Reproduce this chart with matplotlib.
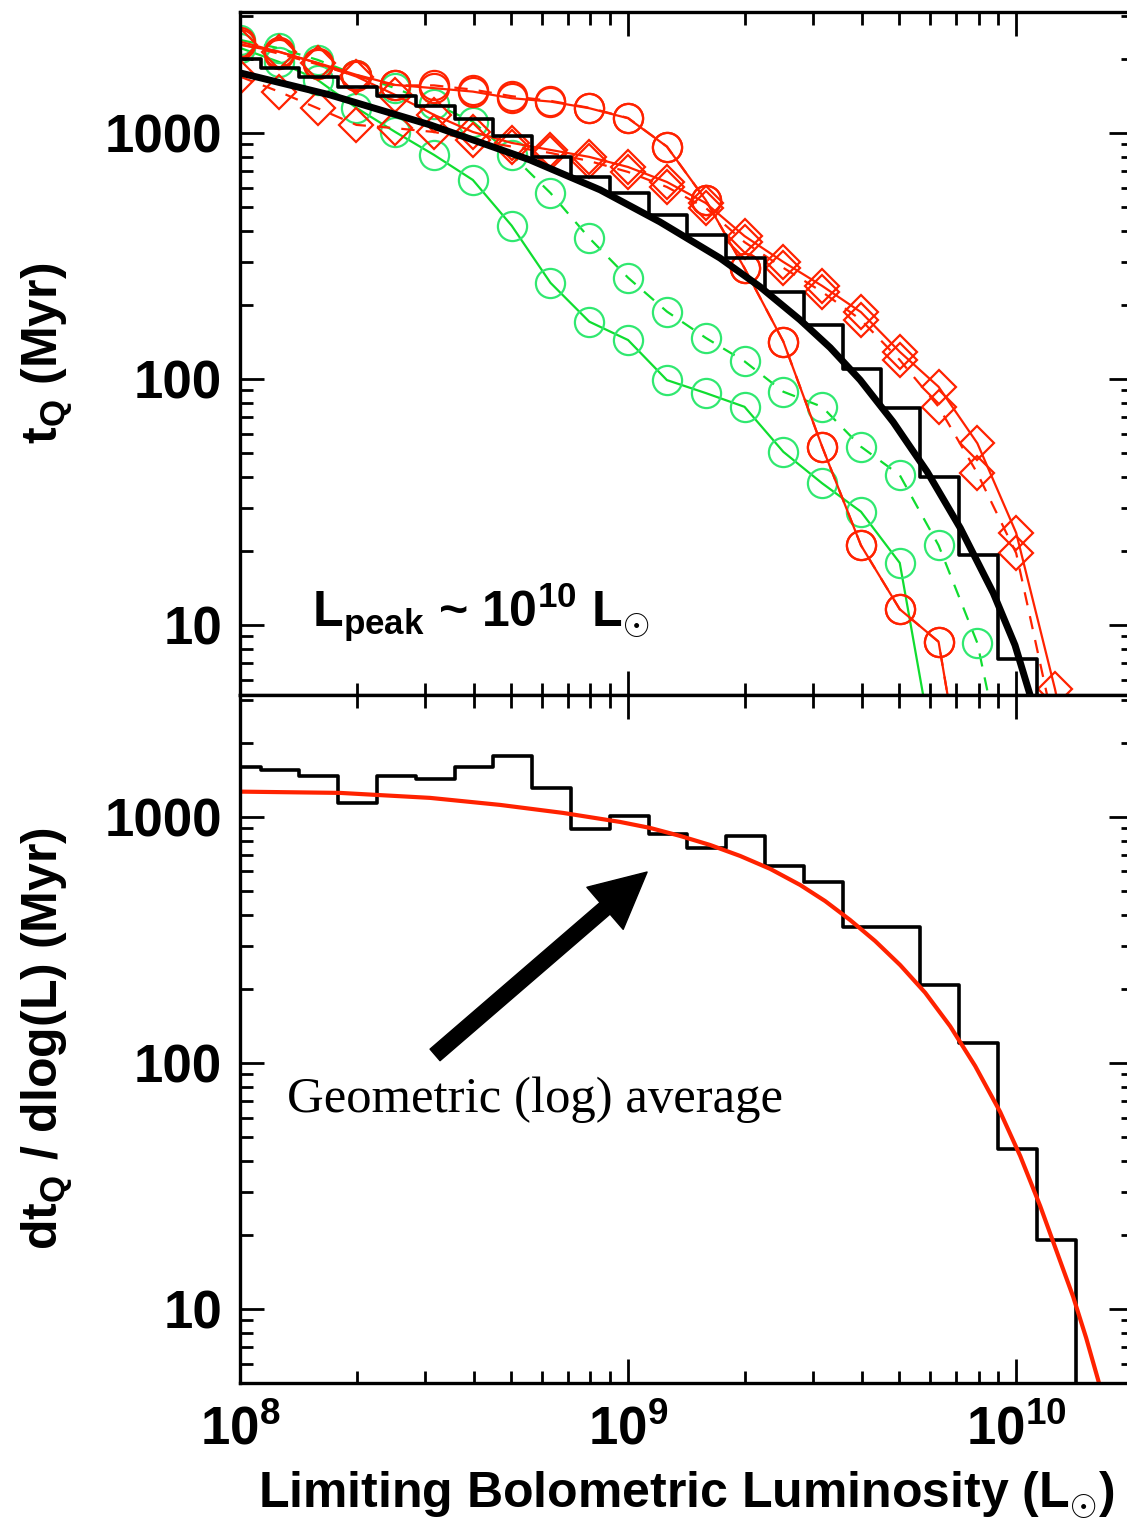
import numpy as np
import matplotlib.pyplot as plt
from matplotlib.ticker import NullFormatter

plt.rcParams['font.family'] = 'Liberation Sans'
plt.rcParams['font.weight'] = 'bold'
plt.rcParams['axes.labelweight'] = 'bold'
plt.rcParams['mathtext.fontset'] = 'custom'
plt.rcParams['mathtext.rm'] = 'Liberation Sans:bold'
plt.rcParams['mathtext.it'] = 'Liberation Sans:bold:italic'
plt.rcParams['mathtext.bf'] = 'Liberation Sans:bold'

# bin centres, 0.1 dex apart (log10 L)
logL = np.round(np.arange(8.0, 10.25, 0.1), 1)

# top panel: cumulative lifetime histogram and geometric mean curve
hist_top = [1993, 1833, 1684, 1534, 1414, 1288, 1140, 973, 801, 664, 569,
            464, 385, 310, 226, 166, 110, 76, 40.1, 19.3, 7.3, 1.0]
fit_logL = [8.000, 8.232, 8.490, 8.747, 8.928, 9.082, 9.237, 9.340, 9.443,
            9.521, 9.598, 9.683, 9.771, 9.856, 9.941, 9.997, 10.036, 10.062]
fit_top = [1754, 1427, 1078, 777, 587, 435, 310, 237, 174,
           134, 99.1, 66.9, 41.9, 24.8, 13.5, 8.29, 5.19, 3.41]

# simulation tracks (red circles / diamonds, green circles)
red_circ = [2350, 2134, 1926, 1722, 1567, 1520, 1472, 1384, 1341, 1260,
            1147, 880, 534, 282, 142, 53.1, 21.1, 11.6, 8.56, 1.0]
red_circ2 = [2300, 2100, 1900, 1700, 1560, 1560, 1500, 1410, 1350, 1265,
             1150, 880, 534, 282, 142, 53.1, 21.1, 11.6, 8.56, 1.0]
red_diam = [2279, 2141, 1920, 1694, 1427, 1184, 1009, 911, 853, 799, 727,
            632, 519, 381, 299, 239, 187, 129, 93.0, 54.8, 23.7, 5.5, 1.0]
red_diam2 = [1694, 1472, 1260, 1078, 1045, 1009, 937, 880, 829, 769, 694,
             603, 496, 360, 283, 226, 174, 119.5, 77.2, 41.4, 19.6, 3.7]
green_circ = [2216, 1944, 1642, 1264, 1009, 814, 644, 420, 246, 171, 144,
              99, 87.7, 77.1, 50.6, 37.7, 28.9, 17.9, 2.3]
green_circ2 = [2388, 2210, 1981, 1721, 1520, 1312, 1111, 814, 570, 374, 258,
               188, 147, 118, 88.8, 77.1, 53.1, 40.7, 21.1, 8.45, 1.5]

# bottom panel: differential lifetime histogram and fit
hist_bot = [1592, 1553, 1468, 1143, 1468, 1423, 1592, 1770, 1308, 891, 1009,
            853, 747, 837, 632, 546, 357, 357, 207, 120, 44.7, 19.0, 1.0]
fit2_logL = [8.0000, 8.2577, 8.4897, 8.6701, 8.8325, 8.9794, 9.0567, 9.1340,
             9.2113, 9.2887, 9.3660, 9.4433, 9.5077, 9.5722, 9.6366, 9.7010,
             9.7655, 9.8299, 9.8943, 9.9588, 10.0103, 10.0619, 10.1057,
             10.1469, 10.1804, 10.2113, 10.2423]
fit_bot = [1267, 1252, 1195, 1119, 1038, 954, 902, 837,
           769, 694, 615, 529, 455, 381, 313, 250,
           193, 141, 97.2, 63.2, 41.9, 26.2, 16.9,
           11.2, 7.62, 5.14, 3.38]

RED = '#ff2200'
GREEN = '#10dd30'
GREEN_M = '#30e870'

fig = plt.figure(figsize=(11.27, 15.28), dpi=100)
ax1 = fig.add_axes([240/1127, 1-695/1528, 893/1127, 683/1528])
ax2 = fig.add_axes([240/1127, 1-1383/1528, 893/1127, 688/1528])

L = 10**logL

def track(y, ls, col, mcol, mk, ms):
    n = len(y)
    ax1.plot(L[:n], y, ls=ls, color=col, lw=1.6, marker=mk, ms=ms,
             mfc='none', mec=mcol, mew=1.6)

track(green_circ, '-', GREEN, GREEN_M, 'o', 21)
track(green_circ2, (0, (6, 5)), GREEN, GREEN_M, 'o', 21)
track(red_circ2, (0, (6, 5)), RED, RED, 'o', 21)
track(red_circ, '-', RED, RED, 'o', 21)
track(red_diam2, (0, (6, 5)), RED, RED, 'D', 17)
track(red_diam, '-', RED, RED, 'D', 17)

ax1.plot(L[:len(hist_top)], hist_top, 'k-', drawstyle='steps-mid', lw=2.6)
ax1.plot(10**np.array(fit_logL), fit_top, 'k-', lw=5)

ax2.plot(L[:len(hist_bot)], hist_bot, 'k-', drawstyle='steps-mid', lw=2.6)
ax2.plot(10**np.array(fit2_logL), fit_bot, '-', color=RED, lw=3)

for ax in (ax1, ax2):
    ax.set_xscale('log')
    ax.set_yscale('log')
    ax.set_xlim(1e8, 2e10)
    ax.set_yticks([10, 100, 1000])
    ax.set_yticklabels(['10', '100', '1000'])
    ax.yaxis.set_minor_formatter(NullFormatter())
    ax.xaxis.set_minor_formatter(NullFormatter())
    ax.tick_params(which='both', direction='in', top=True, right=True,
                   width=2, labelsize=38, pad=13)
    ax.tick_params(which='major', length=17)
    ax.tick_params(which='minor', length=9)
    for s in ax.spines.values():
        s.set_linewidth(2.4)

ax1.set_ylim(5.2, 3100)
ax2.set_ylim(5, 3130)
ax1.tick_params(labelbottom=False)
ax2.set_xticks([1e8, 1e9, 1e10])
ax2.tick_params(axis='x', pad=16)

ax1.set_ylabel(r'$\mathrm{t}_{\mathrm{Q}}$ (Myr)', fontsize=36)
ax2.set_ylabel(r'$\mathrm{dt}_{\mathrm{Q}}$ / dlog(L) (Myr)', fontsize=36)
ax1.yaxis.set_label_coords(-0.185, 0.5)
ax2.yaxis.set_label_coords(-0.185, 0.5)
ax2.set_xlabel(r'Limiting Bolometric Luminosity ($\mathrm{L}_{\odot}$)',
               fontsize=36, labelpad=10)

ax1.text(0.0806, 0.0996,
         r'$\mathrm{L}_{\mathrm{peak}}$ ~ $\mathrm{10}^{\mathrm{10}}$ $\mathrm{L}_{\odot}$',
         transform=ax1.transAxes, fontsize=36, va='baseline', ha='left')

ax2.annotate('', xy=(10**9.049, 597), xytext=(10**8.5026, 107.8),
             arrowprops=dict(arrowstyle='simple,head_width=2.0,head_length=2.0,tail_width=0.55',
                             color='k', mutation_scale=20, shrinkA=0, shrinkB=0))
ax2.text(0.0526, 0.394, 'Geometric (log) average', transform=ax2.transAxes,
         fontsize=36.5, family='Liberation Serif', weight='normal',
         va='baseline', ha='left')

fig.savefig('out.png', dpi=100)
